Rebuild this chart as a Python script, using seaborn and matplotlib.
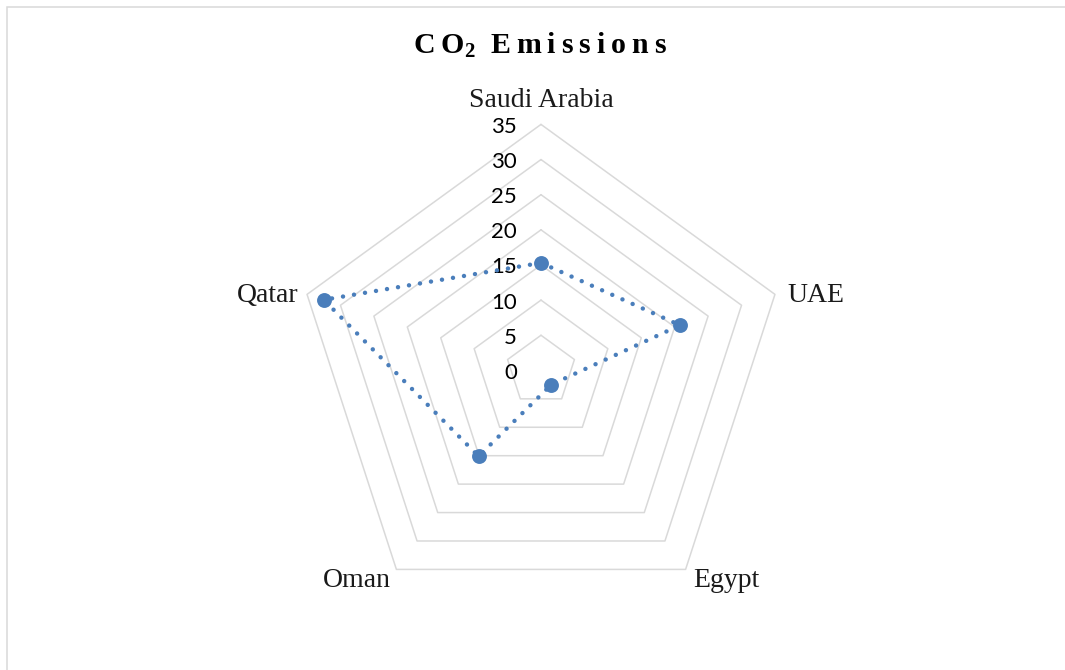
import numpy as np
import pandas as pd
import matplotlib
matplotlib.use("Agg")
import matplotlib.pyplot as plt
from matplotlib.patches import Rectangle
import seaborn as sns

# Data
countries = ["Saudi Arabia", "UAE", "Egypt", "Oman", "Qatar"]
emissions = [15.3, 20.8, 2.5, 15.1, 32.5]
ring_values = [0, 5, 10, 15, 20, 25, 30, 35]

sns.set_style("white")
plt.rcParams["font.family"] = ["Liberation Serif", "DejaVu Serif"]
plt.rcParams["mathtext.fontset"] = "custom"
plt.rcParams["mathtext.rm"] = "Liberation Serif:bold"
plt.rcParams["mathtext.default"] = "rm"

W, H, DPI = 1065, 670, 100
fig = plt.figure(figsize=(W / DPI, H / DPI), dpi=DPI)
fig.patch.set_facecolor("white")

# chart border (top and left edges visible)
fig.add_artist(Rectangle((7 / W, -0.2), 2.0, 1.2 - 7 / H + 0.0001,
                         transform=fig.transFigure, fill=False,
                         edgecolor="#D9D9D9", linewidth=1.1))

cx, cy, R = 541, 370.4, 246
ax = fig.add_axes([(cx - R) / W, (H - cy - R) / H, 2 * R / W, 2 * R / H],
                  projection="polar")
ax.set_theta_zero_location("N")
ax.set_theta_direction(-1)
ax.set_facecolor("none")
ax.grid(False)
ax.spines["polar"].set_visible(False)

n = len(countries)
theta = np.linspace(0, 2 * np.pi, n, endpoint=False)
theta_closed = np.append(theta, 2 * np.pi)

# pentagon gridlines
for r in ring_values[1:]:
    ax.plot(theta_closed, [r] * (n + 1), color="#D9D9D9", linewidth=1.1,
            zorder=1, clip_on=False)

# radial value labels
px = 0.72  # points per pixel
for r in ring_values:
    ax.annotate(str(r), xy=(0, r), xytext=(-24 * px, -8.5 * px),
                textcoords="offset points", ha="right", va="baseline",
                fontsize=16, family=["Lato", "DejaVu Sans"], color="black",
                annotation_clip=False, zorder=2)

# category labels
label_offsets = {
    "Saudi Arabia": ((0, 17), "center"),
    "UAE": ((12, -8), "left"),
    "Egypt": ((7.5, -17.5), "left"),
    "Oman": ((-5.5, -18), "right"),
    "Qatar": ((-9, -8), "right"),
}
for t, name in zip(theta, countries):
    (dx, dy), ha = label_offsets[name]
    ax.annotate(name, xy=(t, ring_values[-1]), xytext=(dx * px, dy * px),
                textcoords="offset points", ha=ha, va="baseline",
                fontsize=20, color="#1a1a1a", annotation_clip=False)

# series
df_line = pd.DataFrame({"theta": theta_closed,
                        "value": emissions + [emissions[0]]})
df_pts = pd.DataFrame({"theta": theta, "value": emissions})
color = "#4A7EBB"
sns.lineplot(data=df_line, x="theta", y="value", sort=False, estimator=None,
             ax=ax, color=color, linewidth=3.2,
             linestyle=(0, (0.01, 2.5)), dash_capstyle="round", zorder=3)
sns.scatterplot(data=df_pts, x="theta", y="value", ax=ax, color=color,
                s=115, linewidth=0, zorder=4, clip_on=False)
ax.set_xlabel("")
ax.set_ylabel("")
ax.set_xticks([])
ax.set_yticks([])
ax.set_ylim(0, ring_values[-1])

# title with letter spacing
ts = "\u2009"
title = ts.join("CO") + "$_2$" + "  " + ts.join("Emissions")
fig.text(540 / W, 1 - 54 / H, title, ha="center", va="baseline",
         fontsize=21.5, fontweight="bold", color="black")

fig.savefig("out.png", dpi=DPI, facecolor="white")
